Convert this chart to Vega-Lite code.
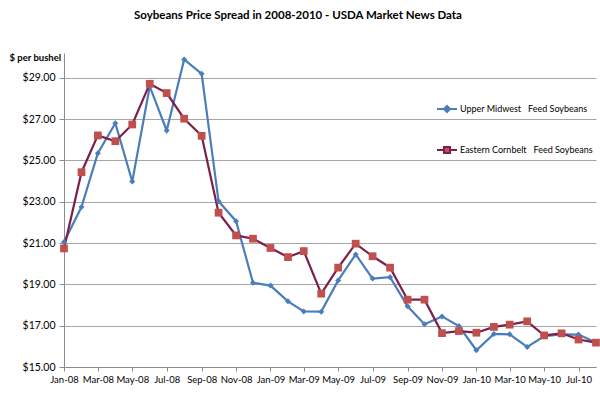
{
  "$schema": "https://vega.github.io/schema/vega-lite/v6.json",
  "autosize": {"type": "none"},
  "width": 532,
  "height": 314,
  "padding": {"left": 64, "top": 53, "right": 4, "bottom": 28},
  "background": "white",
  "config": {
    "font": "Lato",
    "view": {"stroke": null},
    "axis": {"labelFont": "Lato", "labelFontSize": 10.5, "labelColor": "#000000", "domainColor": "#8c8c8c", "tickColor": "#8c8c8c", "gridColor": "#a6a6a6"}
  },
  "title": {
    "text": "Soybeans Price Spread in 2008-2010 - USDA Market News Data",
    "font": "Lato",
    "fontSize": 11.5,
    "fontWeight": "bold",
    "color": "#000000",
    "anchor": "middle",
    "dx": -32,
    "offset": 31
  },
  "data": {
    "values": [
      {"date": "2008-01-01", "series": "Upper Midwest", "price": 21.05},
      {"date": "2008-02-01", "series": "Upper Midwest", "price": 22.74},
      {"date": "2008-03-01", "series": "Upper Midwest", "price": 25.35},
      {"date": "2008-04-01", "series": "Upper Midwest", "price": 26.8},
      {"date": "2008-05-01", "series": "Upper Midwest", "price": 23.98},
      {"date": "2008-06-01", "series": "Upper Midwest", "price": 28.58},
      {"date": "2008-07-01", "series": "Upper Midwest", "price": 26.45},
      {"date": "2008-08-01", "series": "Upper Midwest", "price": 29.89},
      {"date": "2008-09-01", "series": "Upper Midwest", "price": 29.19},
      {"date": "2008-10-01", "series": "Upper Midwest", "price": 23.02},
      {"date": "2008-11-01", "series": "Upper Midwest", "price": 22.06},
      {"date": "2008-12-01", "series": "Upper Midwest", "price": 19.08},
      {"date": "2009-01-01", "series": "Upper Midwest", "price": 18.94},
      {"date": "2009-02-01", "series": "Upper Midwest", "price": 18.18},
      {"date": "2009-03-01", "series": "Upper Midwest", "price": 17.69},
      {"date": "2009-04-01", "series": "Upper Midwest", "price": 17.68},
      {"date": "2009-05-01", "series": "Upper Midwest", "price": 19.19},
      {"date": "2009-06-01", "series": "Upper Midwest", "price": 20.45},
      {"date": "2009-07-01", "series": "Upper Midwest", "price": 19.28},
      {"date": "2009-08-01", "series": "Upper Midwest", "price": 19.35},
      {"date": "2009-09-01", "series": "Upper Midwest", "price": 17.94},
      {"date": "2009-10-01", "series": "Upper Midwest", "price": 17.07},
      {"date": "2009-11-01", "series": "Upper Midwest", "price": 17.45},
      {"date": "2009-12-01", "series": "Upper Midwest", "price": 16.98},
      {"date": "2010-01-01", "series": "Upper Midwest", "price": 15.81},
      {"date": "2010-02-01", "series": "Upper Midwest", "price": 16.6},
      {"date": "2010-03-01", "series": "Upper Midwest", "price": 16.58},
      {"date": "2010-04-01", "series": "Upper Midwest", "price": 15.97},
      {"date": "2010-05-01", "series": "Upper Midwest", "price": 16.49},
      {"date": "2010-06-01", "series": "Upper Midwest", "price": 16.58},
      {"date": "2010-07-01", "series": "Upper Midwest", "price": 16.57},
      {"date": "2010-08-01", "series": "Upper Midwest", "price": 16.18},
      {"date": "2008-01-01", "series": "Eastern Cornbelt", "price": 20.74},
      {"date": "2008-02-01", "series": "Eastern Cornbelt", "price": 24.43},
      {"date": "2008-03-01", "series": "Eastern Cornbelt", "price": 26.21},
      {"date": "2008-04-01", "series": "Eastern Cornbelt", "price": 25.93},
      {"date": "2008-05-01", "series": "Eastern Cornbelt", "price": 26.74},
      {"date": "2008-06-01", "series": "Eastern Cornbelt", "price": 28.71},
      {"date": "2008-07-01", "series": "Eastern Cornbelt", "price": 28.26},
      {"date": "2008-08-01", "series": "Eastern Cornbelt", "price": 27.02},
      {"date": "2008-09-01", "series": "Eastern Cornbelt", "price": 26.19},
      {"date": "2008-10-01", "series": "Eastern Cornbelt", "price": 22.47},
      {"date": "2008-11-01", "series": "Eastern Cornbelt", "price": 21.37},
      {"date": "2008-12-01", "series": "Eastern Cornbelt", "price": 21.21},
      {"date": "2009-01-01", "series": "Eastern Cornbelt", "price": 20.76},
      {"date": "2009-02-01", "series": "Eastern Cornbelt", "price": 20.32},
      {"date": "2009-03-01", "series": "Eastern Cornbelt", "price": 20.61},
      {"date": "2009-04-01", "series": "Eastern Cornbelt", "price": 18.55},
      {"date": "2009-05-01", "series": "Eastern Cornbelt", "price": 19.81},
      {"date": "2009-06-01", "series": "Eastern Cornbelt", "price": 20.97},
      {"date": "2009-07-01", "series": "Eastern Cornbelt", "price": 20.36},
      {"date": "2009-08-01", "series": "Eastern Cornbelt", "price": 19.81},
      {"date": "2009-09-01", "series": "Eastern Cornbelt", "price": 18.26},
      {"date": "2009-10-01", "series": "Eastern Cornbelt", "price": 18.26},
      {"date": "2009-11-01", "series": "Eastern Cornbelt", "price": 16.64},
      {"date": "2009-12-01", "series": "Eastern Cornbelt", "price": 16.74},
      {"date": "2010-01-01", "series": "Eastern Cornbelt", "price": 16.66},
      {"date": "2010-02-01", "series": "Eastern Cornbelt", "price": 16.94},
      {"date": "2010-03-01", "series": "Eastern Cornbelt", "price": 17.05},
      {"date": "2010-04-01", "series": "Eastern Cornbelt", "price": 17.21},
      {"date": "2010-05-01", "series": "Eastern Cornbelt", "price": 16.53},
      {"date": "2010-06-01", "series": "Eastern Cornbelt", "price": 16.63},
      {"date": "2010-07-01", "series": "Eastern Cornbelt", "price": 16.33},
      {"date": "2010-08-01", "series": "Eastern Cornbelt", "price": 16.18}
    ]
  },
  "encoding": {
    "x": {
      "field": "date",
      "type": "temporal",
      "scale": {"type": "utc", "domain": [{"year": 2008, "month": 1, "date": 1, "utc": true}, {"year": 2010, "month": 8, "date": 1, "utc": true}]},
      "axis": {
        "title": null,
        "labelExpr": "utcFormat(datum.value, '%b-%y')",
        "tickCount": {"interval": "month", "step": 2},
        "grid": false,
        "tickSize": 4,
        "labelPadding": 3,
        "labelFontSize": 9.5,
        "labelOverlap": false,
        "labelFlush": false
      }
    },
    "y": {
      "field": "price",
      "type": "quantitative",
      "scale": {"domain": [15, 30.2], "nice": false, "zero": false},
      "axis": {
        "title": "$ per bushel",
        "titleAngle": 0,
        "titleAlign": "left",
        "titleBaseline": "alphabetic",
        "titleX": -55,
        "titleY": 7,
        "titleFont": "Lato",
        "titleFontSize": 9.5,
        "titleFontWeight": "bold",
        "values": [15, 17, 19, 21, 23, 25, 27, 29],
        "format": "$.2f",
        "tickSize": 5,
        "labelPadding": 4
      }
    }
  },
  "layer": [
    {
      "mark": {"type": "line", "strokeWidth": 2.2},
      "encoding": {
        "color": {
          "field": "series",
          "type": "nominal",
          "scale": {"domain": ["Upper Midwest", "Eastern Cornbelt"], "range": ["#4A7EBB", "#7D1E4C"]},
          "legend": {
            "title": null,
            "orient": "none",
            "legendX": 372,
            "legendY": 45,
            "rowPadding": 23,
            "symbolSize": 400,
            "symbolStrokeWidth": 2,
            "labelFont": "Lato",
            "labelFontSize": 9,
            "labelLimit": 250,
            "labelColor": "#000000",
            "labelOffset": 2,
            "labelExpr": "datum.value === 'Upper Midwest' ? 'Upper Midwest\u00a0\u00a0\u00a0Feed Soybeans' : 'Eastern Cornbelt\u00a0\u00a0\u00a0Feed Soybeans'",
            "encode": {
              "symbols": {
                "update": {
                  "shape": {"signal": "datum.value === 'Upper Midwest' ? 'M-1,0H1M0,-0.3L0.3,0L0,0.3L-0.3,0Z' : 'M-1,0H-0.3M0.3,0H1M-0.3,-0.3H0.3V0.3H-0.3Z'"},
                  "fill": {"signal": "datum.value === 'Upper Midwest' ? '#4A7EBB' : '#C0504D'"},
                  "fillOpacity": {"value": 1}
                }
              }
            }
          }
        }
      }
    },
    {
      "transform": [{"filter": "datum.series === 'Upper Midwest'"}],
      "mark": {"type": "point", "shape": "diamond", "filled": true, "size": 36, "color": "#4A7EBB", "opacity": 1}
    },
    {
      "transform": [{"filter": "datum.series === 'Eastern Cornbelt'"}],
      "mark": {"type": "square", "size": 60, "color": "#C0504D", "opacity": 1}
    }
  ]
}
